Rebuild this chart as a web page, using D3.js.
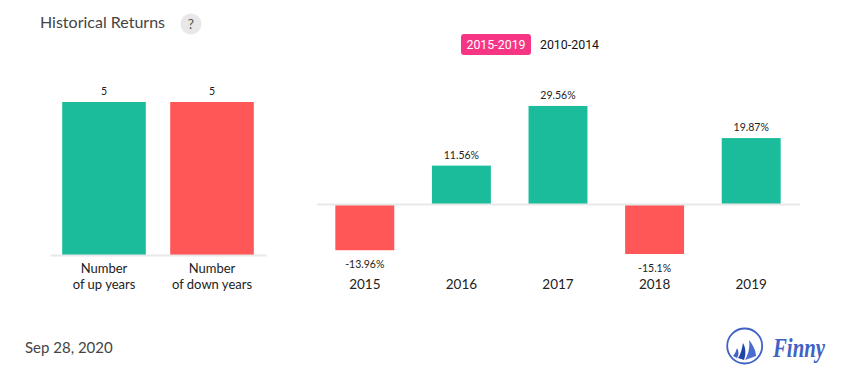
<!DOCTYPE html>
<html>
<head>
<meta charset="utf-8">
<script src="https://cdnjs.cloudflare.com/ajax/libs/d3/7.8.5/d3.min.js"></script>
<style>
  html, body { margin: 0; padding: 0; background: #fff; }
  svg { display: block; font-family: Lato, sans-serif; }
  .domain { stroke: #e8e8e8; stroke-width: 2px; }
</style>
</head>
<body>
<svg width="855" height="382"></svg>
<script>
// Left chart data
const countLabels = ["Number\nof up years", "Number\nof down years"];
const countValues = [5, 5];
const countColors = ["#1abc9c", "#ff5757"];

// Right chart data
const years = ["2015", "2016", "2017", "2018", "2019"];
const returns = [-13.96, 11.56, 29.56, -15.1, 19.87];
const returnLabels = ["-13.96%", "11.56%", "29.56%", "-15.1%", "19.87%"];

const periods = ["2015-2019", "2010-2014"];

const UP = "#1abc9c", DOWN = "#ff5757", INK = "#222";

const svg = d3.select("svg");

// Title
svg.append("text").attr("x", 40).attr("y", 28)
    .style("font-size", "16px").attr("fill", "#444").text("Historical Returns");
svg.append("circle").attr("cx", 191).attr("cy", 24).attr("r", 10.5).attr("fill", "#e8e8e8");
svg.append("text").attr("x", 191).attr("y", 29).attr("text-anchor", "middle")
    .style("font-size", "14px").attr("fill", "#555").text("?");

// Period switch
svg.append("rect").attr("x", 461).attr("y", 34).attr("width", 70).attr("height", 21)
    .attr("rx", 3).attr("fill", "#f73585");
svg.append("text").attr("x", 496).attr("y", 49).attr("text-anchor", "middle")
    .style("font-size", "12.4px").style("font-family", "Roboto, sans-serif").attr("fill", "#fff").text(periods[0]);
svg.append("text").attr("x", 569.5).attr("y", 49).attr("text-anchor", "middle")
    .style("font-size", "12.4px").style("font-family", "Roboto, sans-serif").attr("fill", "#111").text(periods[1]);

// Left chart
const xCount = d3.scaleBand().domain(countLabels).range([50, 266])
    .paddingInner(0.226).paddingOuter(0.113);
const yCount = d3.scaleLinear().domain([0, 5]).range([255, 102]);

svg.selectAll(".count-bar").data(countLabels).enter().append("rect")
    .attr("class", "count-bar")
    .attr("x", d => xCount(d))
    .attr("y", (d, i) => yCount(countValues[i]))
    .attr("width", xCount.bandwidth())
    .attr("height", (d, i) => yCount(0) - yCount(countValues[i]))
    .attr("fill", (d, i) => countColors[i]);

svg.selectAll(".count-label").data(countLabels).enter().append("text")
    .attr("class", "count-label")
    .attr("x", d => xCount(d) + xCount.bandwidth() / 2)
    .attr("y", (d, i) => yCount(countValues[i]) - 7)
    .attr("text-anchor", "middle")
    .style("font-size", "10.5px").attr("fill", INK)
    .text((d, i) => countValues[i]);

const countAxis = svg.append("g")
    .attr("transform", `translate(0,${yCount(0)})`)
    .call(d3.axisBottom(xCount).tickSize(0).tickPadding(6).tickFormat(""));
countAxis.selectAll(".tick text").each(function(d) {
    const t = d3.select(this).attr("dy", null).style("font-size", "13px")
        .style("font-family", "Lato, sans-serif").attr("fill", INK);
    d.split("\n").forEach((line, i) => {
        t.append("tspan").attr("x", 0).attr("y", 18 + i * 16).text(line);
    });
});

// Right chart
const xYear = d3.scaleBand().domain(years).range([316.5, 799.5])
    .paddingInner(0.39).paddingOuter(0.195);
const yReturn = d3.scaleLinear().domain([-16, 30]).range([257, 104.5]);

svg.selectAll(".return-bar").data(years).enter().append("rect")
    .attr("class", "return-bar")
    .attr("x", d => xYear(d))
    .attr("y", (d, i) => yReturn(Math.max(0, returns[i])))
    .attr("width", xYear.bandwidth())
    .attr("height", (d, i) => Math.abs(yReturn(returns[i]) - yReturn(0)))
    .attr("fill", (d, i) => returns[i] >= 0 ? UP : DOWN);

svg.selectAll(".return-label").data(years).enter().append("text")
    .attr("class", "return-label")
    .attr("x", d => xYear(d) + xYear.bandwidth() / 2)
    .attr("y", (d, i) => returns[i] >= 0 ? yReturn(returns[i]) - 7 : yReturn(returns[i]) + 18)
    .attr("text-anchor", "middle")
    .style("font-size", "10.5px").attr("fill", INK)
    .text((d, i) => returnLabels[i]);

svg.append("g")
    .attr("transform", `translate(0,${yReturn(0)})`)
    .call(d3.axisBottom(xYear).tickSize(0).tickPadding(75))
    .selectAll(".tick text")
    .style("font-size", "13.5px").style("font-family", "Lato, sans-serif").attr("fill", INK);

// Date
svg.append("text").attr("x", 25).attr("y", 353)
    .style("font-size", "15px").attr("fill", "#444").text("Sep 28, 2020");

// Logo
const logo = svg.append("g");
logo.append("circle").attr("cx", 744.7).attr("cy", 346).attr("r", 17.5)
    .attr("fill", "none").attr("stroke", "#3f62c4").attr("stroke-width", 1.8);
logo.append("path").attr("fill", "#4a6cd0")
    .attr("d", "M749 340 C754 346 756 352 756 356 L745 360 C749 353 750 346 749 340 Z");
logo.append("path").attr("fill", "#1f45a8")
    .attr("d", "M743 343 C746 348 746 355 744 360 L738 358 C741 354 742 348 743 343 Z");
logo.append("path").attr("fill", "#3f62c4")
    .attr("d", "M737 348 C739 351 739 355 737 358 L733 356 C735 354 736 351 737 348 Z");
logo.append("text").attr("x", 773).attr("y", 357)
    .attr("textLength", 52).attr("lengthAdjust", "spacingAndGlyphs")
    .style("font-family", "'Liberation Serif', serif").style("font-style", "italic").style("font-weight", "bold")
    .style("font-size", "27px").attr("fill", "#3f62c4").text("Finny");
</script>
</body>
</html>
